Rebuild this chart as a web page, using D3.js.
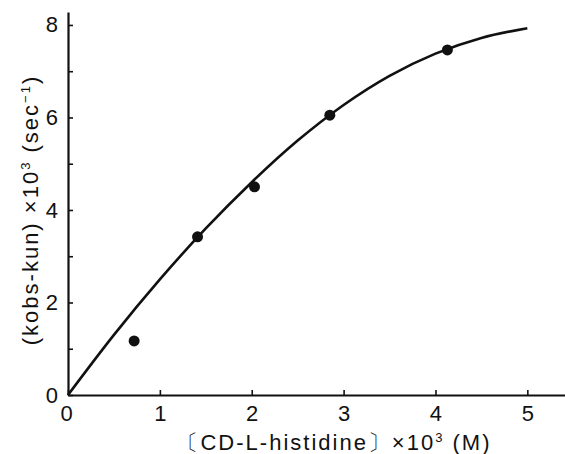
<!DOCTYPE html>
<html>
<head>
<meta charset="utf-8">
<title>kobs-kun vs CD-L-histidine</title>
<script src="https://d3js.org/d3.v7.min.js"></script>
<style>
  body { margin: 0; background: #fff; }
  svg text { font-family: "Liberation Sans", Arial, sans-serif; fill: #111; }
</style>
</head>
<body>
<svg width="565" height="454"></svg>
<script>
// measured points: [CD-L-histidine] x 10^3 (M) vs (kobs-kun) x 10^3 (sec^-1)
var concX = [0.72, 1.41, 2.03, 2.85, 4.13];
var rateY = [1.17, 3.42, 4.50, 6.05, 7.46];

// fitted curve
var curveX = [0, 0.5, 1, 1.5, 2, 2.5, 3, 3.5, 4, 4.5, 5];
var curveY = [0, 1.3, 2.5, 3.6, 4.6, 5.5, 6.27, 6.9, 7.38, 7.72, 7.93];

var xTicks = [0, 1, 2, 3, 4, 5];
var yTicks = [0, 1, 2, 3, 4, 5, 6, 7, 8];

var svg = d3.select("svg");

var x = d3.scaleLinear().domain([0, 5.41]).range([68, 565]);
var y = d3.scaleLinear().domain([0, 8.28]).range([395, 12]);

// x axis, ticks point inward
var gx = svg.append("g")
    .attr("transform", "translate(0," + y(0) + ")")
    .call(d3.axisBottom(x)
      .tickValues(xTicks)
      .tickSize(-5)
      .tickSizeOuter(0)
      .tickPadding(10)
      .tickFormat(d3.format("d")));

// y axis, minor ticks at odd values
var gy = svg.append("g")
    .attr("transform", "translate(" + x(0) + ",0)")
    .call(d3.axisLeft(y)
      .tickValues(yTicks)
      .tickSize(-5)
      .tickSizeOuter(0)
      .tickPadding(10)
      .tickFormat(function(d) { return d % 2 == 0 ? d : ""; }));

svg.selectAll(".domain").attr("stroke", "#111").attr("stroke-width", 2.2);
svg.selectAll(".tick line").attr("stroke", "#111").attr("stroke-width", 1.6);
svg.selectAll(".tick text").attr("font-size", 22).attr("fill", "#111")
    .attr("font-family", "Liberation Sans, Arial, sans-serif");
gx.selectAll(".tick text").filter(function(d) { return d == 0; }).attr("dx", -2);

// curve
var line = d3.line()
    .x(function(d, i) { return x(curveX[i]); })
    .y(function(d) { return y(d); })
    .curve(d3.curveMonotoneX);

svg.append("path")
    .datum(curveY)
    .attr("fill", "none")
    .attr("stroke", "#111")
    .attr("stroke-width", 2.6)
    .attr("d", line);

// data points
svg.append("g")
  .selectAll("circle")
  .data(rateY)
  .enter().append("circle")
    .attr("cx", function(d, i) { return x(concX[i]); })
    .attr("cy", function(d) { return y(d); })
    .attr("r", 5.5)
    .attr("fill", "#111");

// axis titles
var xt = svg.append("text")
    .attr("x", 334)
    .attr("y", 450)
    .attr("text-anchor", "middle")
    .attr("letter-spacing", 2)
    .attr("font-size", 22);
xt.append("tspan").text("〔CD-L-histidine〕×10");
xt.append("tspan").attr("font-size", 13).attr("dy", -8).text("3");
xt.append("tspan").attr("dy", 8).text(" (M)");

var yt = svg.append("text")
    .attr("transform", "translate(38,210) rotate(-90)")
    .attr("text-anchor", "middle")
    .attr("letter-spacing", 2)
    .attr("font-size", 22);
yt.append("tspan").text("(kobs-kun) ×10");
yt.append("tspan").attr("font-size", 13).attr("dy", -8).text("3");
yt.append("tspan").attr("dy", 8).text("  (sec");
yt.append("tspan").attr("font-size", 13).attr("dy", -8).text("−1");
yt.append("tspan").attr("dy", 8).text(")");
</script>
</body>
</html>
